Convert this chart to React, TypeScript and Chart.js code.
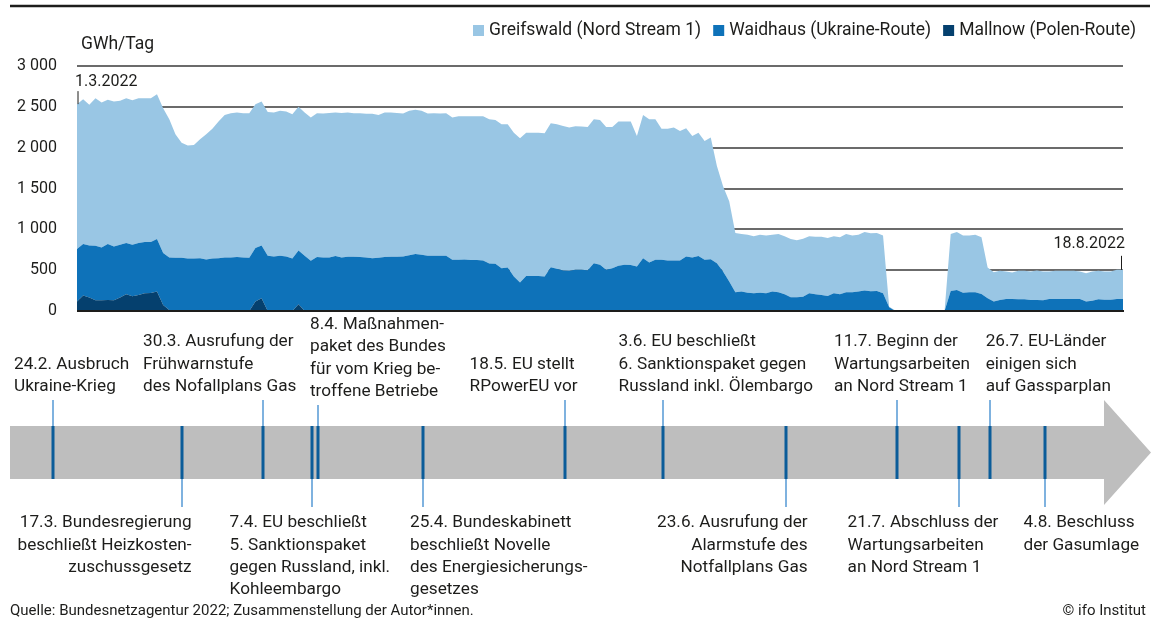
import React, { useEffect, useRef } from 'react';
import { Chart, registerables } from 'chart.js';

Chart.register(...registerables);

// ---------------- data (GWh/Tag, daily from 1.3.2022 to 18.8.2022) ----------------
const mallnow: number[] = [
  115, 189, 164, 131, 131, 135, 131, 164, 205, 180,
  197, 217, 221, 238, 74, 12, 0, 0, 0, 0,
  0, 0, 0, 0, 0, 0, 0, 0, 0, 115,
  156, 0, 0, 0, 0, 0, 82, 0, 0, 0,
  0, 0, 0, 0, 0, 0, 0, 0, 0, 0,
  0, 0, 0, 0, 0, 0, 0, 0, 0, 0,
  0, 0, 0, 0, 0, 0, 0, 0, 0, 0,
  0, 0, 0, 0, 0, 0, 0, 0, 0, 0,
  0, 0, 0, 0, 0, 0, 0, 0, 0, 0,
  0, 0, 0, 0, 0, 0, 0, 0, 0, 0,
  0, 0, 0, 0, 0, 0, 0, 0, 0, 0,
  0, 0, 0, 0, 0, 0, 0, 0, 0, 0,
  0, 0, 0, 0, 0, 0, 0, 0, 0, 0,
  0, 0, 0, 0, 0, 0, 0, 0, 0, 0,
  0, 0, 0, 0, 0, 0, 0, 0, 0, 0,
  0, 0, 0, 0, 0, 0, 0, 0, 0, 0,
  0, 0, 0, 0, 0, 0, 0, 0, 0, 0,
  0,
];

const waidhaus: number[] = [
  643, 631, 639, 668, 648, 685, 660, 647, 627, 631,
  635, 627, 623, 643, 635, 644, 652, 652, 643, 643,
  647, 631, 643, 647, 656, 656, 660, 656, 652, 655,
  647, 676, 668, 676, 668, 643, 660, 676, 615, 660,
  656, 656, 672, 656, 664, 664, 660, 656, 647, 652,
  660, 664, 664, 668, 684, 697, 688, 676, 676, 676,
  676, 627, 627, 631, 623, 623, 619, 582, 578, 525,
  533, 422, 348, 430, 430, 430, 422, 537, 516, 496,
  492, 504, 504, 500, 586, 566, 504, 525, 553, 566,
  562, 545, 647, 594, 627, 627, 619, 619, 619, 668,
  656, 672, 627, 635, 586, 484, 361, 230, 238, 225,
  217, 225, 217, 238, 230, 205, 168, 168, 176, 217,
  205, 197, 184, 217, 205, 230, 230, 238, 250, 242,
  246, 217, 45, 0, 0, 0, 0, 0, 0, 0,
  0, 0, 246, 258, 225, 230, 230, 209, 156, 115,
  135, 148, 148, 143, 143, 135, 135, 131, 148, 148,
  148, 148, 148, 148, 115, 127, 143, 139, 139, 148,
  148,
];

const greifswald: number[] = [
  1775, 1774, 1721, 1807, 1774, 1766, 1774, 1762, 1774, 1771,
  1774, 1762, 1762, 1774, 1774, 1692, 1512, 1409, 1385, 1389,
  1455, 1533, 1590, 1672, 1745, 1766, 1770, 1766, 1770, 1763,
  1762, 1762, 1762, 1775, 1774, 1767, 1758, 1754, 1753, 1762,
  1762, 1770, 1758, 1770, 1766, 1758, 1762, 1758, 1767, 1749,
  1770, 1766, 1762, 1750, 1767, 1766, 1763, 1742, 1746, 1742,
  1746, 1741, 1758, 1754, 1762, 1762, 1766, 1766, 1762, 1762,
  1754, 1762, 1766, 1754, 1754, 1754, 1754, 1762, 1771, 1770,
  1754, 1758, 1754, 1754, 1762, 1774, 1750, 1729, 1766, 1753,
  1757, 1598, 1754, 1754, 1721, 1606, 1614, 1627, 1586, 1569,
  1487, 1512, 1455, 1488, 1188, 1044, 983, 725, 705, 709,
  697, 709, 709, 696, 713, 709, 713, 697, 709, 697,
  705, 713, 709, 697, 697, 713, 696, 696, 717, 709,
  709, 709, 8, 6, 0, 0, 0, 0, 0, 0,
  0, 0, 697, 709, 701, 696, 704, 693, 377, 360,
  357, 336, 323, 349, 349, 349, 361, 353, 336, 344,
  344, 344, 344, 336, 348, 357, 349, 345, 345, 356,
  356,
];

const seriesNames = ['Greifswald (Nord Stream 1)', 'Waidhaus (Ukraine-Route)', 'Mallnow (Polen-Route)'];
const yTicks = [0, 500, 1000, 1500, 2000, 2500, 3000];

// daily category labels 1.3.2022 ... 18.8.2022
const dayLabels: string[] = greifswald.map((_, i) => {
  const d = new Date(Date.UTC(2022, 2, 1 + i));
  return `${d.getUTCDate()}.${d.getUTCMonth() + 1}.2022`;
});

// ---------------- timeline events ----------------
const eventDates = ['24.2.', '17.3.', '30.3.', '7.4.', '8.4.', '25.4.', '18.5.', '3.6.', '23.6.', '11.7.', '21.7.', '26.7.', '4.8.'];
const eventTexts: string[][] = [
  ['24.2. Ausbruch', 'Ukraine-Krieg'],
  ['17.3. Bundesregierung', 'beschließt Heizkosten-', 'zuschussgesetz'],
  ['30.3. Ausrufung der', 'Frühwarnstufe', 'des Nofallplans Gas'],
  ['7.4. EU beschließt', '5. Sanktionspaket', 'gegen Russland, inkl.', 'Kohleembargo'],
  ['8.4. Maßnahmen-', 'paket des Bundes', 'für vom Krieg be-', 'troffene Betriebe'],
  ['25.4. Bundeskabinett', 'beschließt Novelle', 'des Energiesicherungs-', 'gesetzes'],
  ['18.5. EU stellt', 'RPowerEU vor'],
  ['3.6. EU beschließt', '6. Sanktionspaket gegen', 'Russland inkl. Ölembargo'],
  ['23.6. Ausrufung der', 'Alarmstufe des', 'Notfallplans Gas'],
  ['11.7. Beginn der', 'Wartungsarbeiten', 'an Nord Stream 1'],
  ['21.7. Abschluss der', 'Wartungsarbeiten', 'an Nord Stream 1'],
  ['26.7. EU-Länder', 'einigen sich', 'auf Gassparplan'],
  ['4.8. Beschluss', 'der Gasumlage'],
];
const eventSide = ['up', 'down', 'up', 'down', 'up', 'down', 'up', 'up', 'down', 'up', 'down', 'up', 'down'];
const eventAlign = ['left', 'right', 'left', 'left', 'left', 'left', 'left', 'left', 'right', 'left', 'left', 'left', 'left'];
// label anchor offset from marker (layout only)
const eventDx = [-39, 9.6, -120, -82.4, -8, -13, -95.4, -44.4, 21.6, -63, -111.4, -4.3, -21.5];
const eventDy = [0, 0, 0, 0, 5, 0, 0, 0, 0, 0, 0, 0, 0];

const dayOffset = (s: string) => {
  const [d, m] = s.split('.').map(Number);
  return (Date.UTC(2022, m - 1, d) - Date.UTC(2022, 2, 1)) / 86400000;
};

// ---------------- styling ----------------
const FONT = 'Roboto, "Noto Sans", sans-serif';
const TEXT = '#1d1d1b';
const LIGHT = '#99C6E4';
const MID = '#0E72B9';
const DARK = '#05406E';
const GRID = '#6b6b6b';
const ARROW = '#BEBEBE';
const MARK = '#0B5C99';
const CONN = '#5498D4';

const overlay = {
  id: 'overlay',
  afterDatasetsDraw(chart: any) {
    const { ctx, chartArea } = chart;
    const y0 = chart.scales.y.getPixelForValue(0);
    ctx.save();
    ctx.strokeStyle = TEXT;
    ctx.lineWidth = 2;
    ctx.beginPath();
    ctx.moveTo(chartArea.left, y0);
    ctx.lineTo(chartArea.right + 1, y0);
    ctx.stroke();
    ctx.restore();
  },
  afterDraw(chart: any) {
    const { ctx, chartArea } = chart;
    ctx.save();
    // top rule
    ctx.strokeStyle = TEXT;
    ctx.lineWidth = 2.5;
    ctx.beginPath();
    ctx.moveTo(10, 6);
    ctx.lineTo(1150, 6);
    ctx.stroke();

    // legend
    ctx.textBaseline = 'middle';
    ctx.textAlign = 'left';
    ctx.font = `17.5px ${FONT}`;
    const legColors = [LIGHT, MID, DARK];
    let lx = 473;
    seriesNames.forEach((name, i) => {
      ctx.fillStyle = legColors[i];
      ctx.fillRect(lx, 25, 11, 11);
      ctx.fillStyle = TEXT;
      ctx.fillText(name, lx + 16, 30.5);
      lx += 16 + ctx.measureText(name).width + 12;
    });

    // unit
    ctx.fillText('GWh/Tag', 81, 45);

    // start / end date markers
    const top = chart.getDatasetMeta(2).data;
    const first = top[0];
    const last = top[top.length - 1];
    ctx.font = `16px ${FONT}`;
    ctx.strokeStyle = TEXT;
    ctx.lineWidth = 1;
    ctx.beginPath();
    ctx.moveTo(first.x + 1, first.y - 13);
    ctx.lineTo(first.x + 1, first.y);
    ctx.moveTo(last.x - 1.5, last.y - 14);
    ctx.lineTo(last.x - 1.5, last.y);
    ctx.stroke();
    ctx.textAlign = 'left';
    ctx.fillText(dayLabels[0], first.x - 2, first.y - 22);
    ctx.textAlign = 'right';
    ctx.fillText(dayLabels[dayLabels.length - 1], last.x + 2, last.y - 26);

    // timeline arrow
    const bodyTop = 426;
    const bodyBot = 479;
    ctx.fillStyle = ARROW;
    ctx.beginPath();
    ctx.moveTo(10, bodyTop);
    ctx.lineTo(1104, bodyTop);
    ctx.lineTo(1104, 400);
    ctx.lineTo(1151, 452.5);
    ctx.lineTo(1104, 505);
    ctx.lineTo(1104, bodyBot);
    ctx.lineTo(10, bodyBot);
    ctx.closePath();
    ctx.fill();

    const tl = chart.scales.tl;
    ctx.font = `17.2px ${FONT}`;
    const lh = 22.3;
    eventDates.forEach((ds, i) => {
      const x = Math.round(tl.getPixelForValue(dayOffset(ds)));
      // marker
      ctx.fillStyle = MARK;
      ctx.fillRect(x - 1.5, bodyTop, 3, bodyBot - bodyTop);
      // connector
      ctx.strokeStyle = CONN;
      ctx.lineWidth = 1.5;
      ctx.beginPath();
      if (eventSide[i] === 'up') {
        ctx.moveTo(x, 400 + eventDy[i]);
        ctx.lineTo(x, bodyTop);
      } else {
        ctx.moveTo(x, bodyBot);
        ctx.lineTo(x, 507);
      }
      ctx.stroke();
      // text
      ctx.fillStyle = TEXT;
      ctx.textAlign = eventAlign[i] as CanvasTextAlign;
      const lines = eventTexts[i];
      lines.forEach((t, j) => {
        const y = eventSide[i] === 'up'
          ? 386.5 - (lines.length - 1 - j) * lh + eventDy[i]
          : 523 + j * lh;
        ctx.fillText(t, x + eventDx[i], y);
      });
    });

    // footer
    ctx.font = `15px ${FONT}`;
    ctx.fillStyle = TEXT;
    ctx.textAlign = 'left';
    ctx.fillText('Quelle: Bundesnetzagentur 2022; Zusammenstellung der Autor*innen.', 10, 611);
    ctx.textAlign = 'right';
    ctx.fillText('© ifo Institut', 1146, 611);
    ctx.restore();
  },
};

export default function App() {
  const ref = useRef<HTMLCanvasElement>(null);
  useEffect(() => {
    const canvas = ref.current;
    if (!canvas) return;
    const chart = new Chart(canvas, {
      type: 'line',
      data: {
        labels: dayLabels,
        datasets: [
          { label: seriesNames[2], data: mallnow, backgroundColor: DARK, borderColor: DARK, borderWidth: 0, fill: 'origin', pointRadius: 0 },
          { label: seriesNames[1], data: waidhaus, backgroundColor: MID, borderColor: MID, borderWidth: 0, fill: '-1', pointRadius: 0 },
          { label: seriesNames[0], data: greifswald, backgroundColor: LIGHT, borderColor: LIGHT, borderWidth: 0, fill: '-1', pointRadius: 0 },
        ],
      },
      options: {
        responsive: false,
        animation: false,
        devicePixelRatio: 1,
        events: [],
        layout: { padding: { left: 0, top: 66, right: 35, bottom: 308 } },
        elements: { line: { tension: 0 } },
        plugins: { legend: { display: false }, tooltip: { enabled: false }, title: { display: false } },
        scales: {
          x: { type: 'category', display: false, offset: false },
          tl: { type: 'linear', axis: 'x', position: 'bottom', display: false, min: -1.1, max: 168.6 },
          y: {
            stacked: true,
            min: yTicks[0],
            max: yTicks[yTicks.length - 1],
            afterFit: (s: any) => { s.width = 77; },
            afterBuildTicks: (s: any) => { s.ticks = yTicks.map((v) => ({ value: v })); },
            ticks: {
              padding: 20,
              color: TEXT,
              font: { family: FONT, size: 16 },
              callback: (v: any) => {
                const n = Number(v);
                return n >= 1000 ? `${Math.floor(n / 1000)} ${String(n % 1000).padStart(3, '0')}` : String(n);
              },
            },
            grid: {
              drawTicks: false,
              lineWidth: 2,
              color: (c: any) => (c.tick && c.tick.value === 0 ? 'rgba(0,0,0,0)' : GRID),
            },
            border: { display: false },
          },
        },
      } as any,
      plugins: [overlay],
    });
    return () => chart.destroy();
  }, []);
  return (
    <div style={{ position: 'absolute', left: 0, top: 0, width: 1158, height: 619, background: '#fff' }}>
      <canvas ref={ref} width={1158} height={619} style={{ display: 'block' }} />
    </div>
  );
}
